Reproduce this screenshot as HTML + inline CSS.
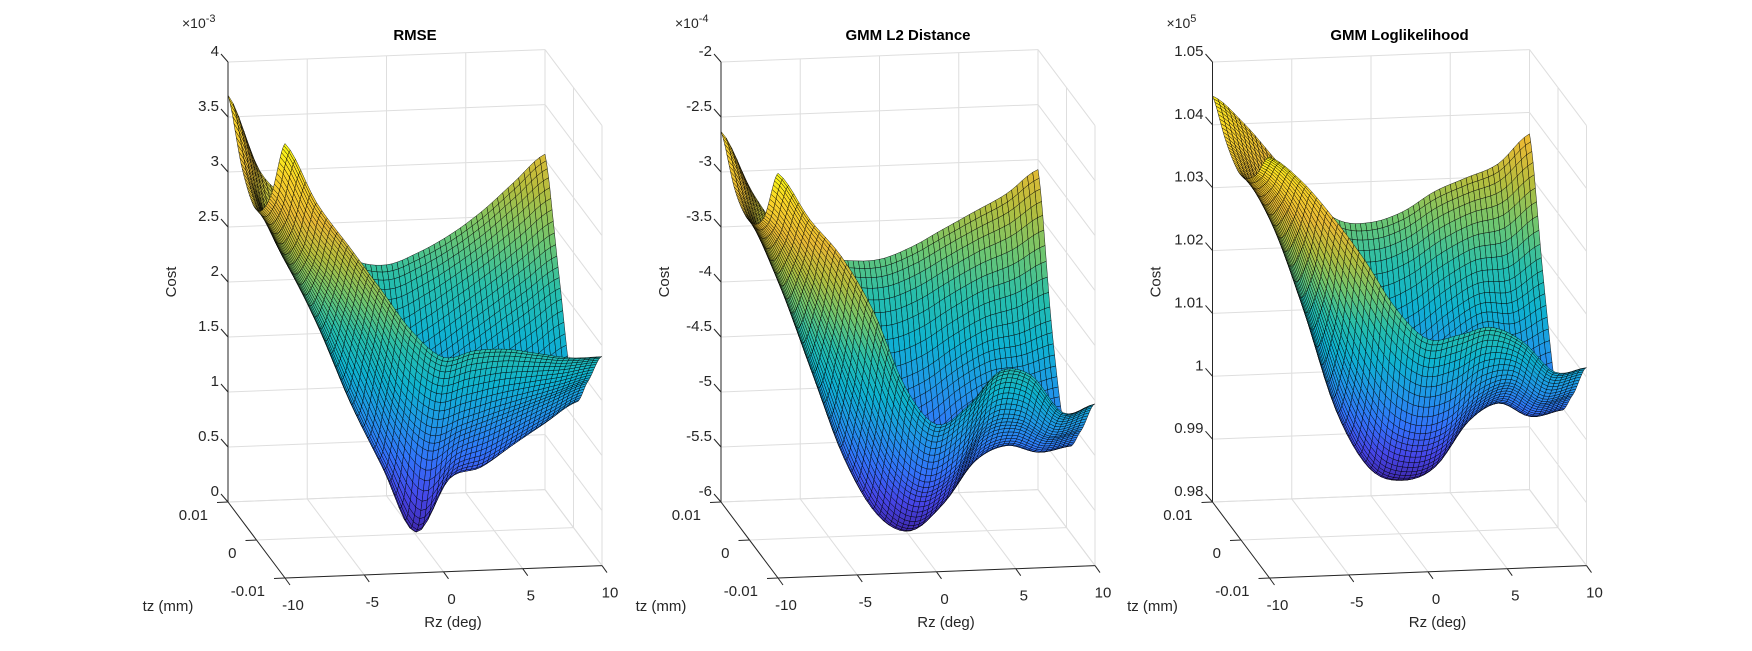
<!DOCTYPE html>
<html><head><meta charset="utf-8">
<style>
html,body{margin:0;padding:0;background:#fff;}
svg{display:block;font-family:"Liberation Sans",Arial,sans-serif;}
</style></head>
<body>
<svg id="fig" width="1752" height="651" viewBox="0 0 1752 651" xmlns="http://www.w3.org/2000/svg">
<rect x="0" y="0" width="1752" height="651" fill="#fff"/>
</svg>
<script>
// ---- data ----
const rzValues = [-10,-8,-6,-4,-2,0,2,4,6,8,10];
const tzValues = [0.01,0.005,0,-0.005,-0.01];
const rzTicks = [-10,-5,0,5,10];
const tzTicks = [0.01,0,-0.01];
const tzTickLabels = ["0.01","0","-0.01"];
// RMSE (x1e-3), rows = tzValues, cols = rzValues
const rmseCost = [
 [3.7,3.0,2.7,2.35,2.15,2.1,2.2,2.35,2.55,2.8,3.05],
 [3.2,2.6,2.2,1.7,1.3,1.1,1.3,1.5,1.7,1.9,2.1],
 [3.0,2.5,1.9,1.2,0.6,0.02,0.5,0.6,0.8,1.0,1.2],
 [3.3,2.8,2.4,1.9,1.3,1.0,1.1,1.2,1.3,1.4,1.5],
 [3.95,3.4,3.0,2.6,2.2,1.95,2.0,2.0,1.95,1.9,1.9]
];
// GMM L2 distance (x1e-4)
const l2Cost = [
 [-2.63,-3.2,-3.6,-3.8,-3.85,-3.85,-3.75,-3.6,-3.45,-3.3,-3.09],
 [-3.0,-3.5,-4.1,-4.6,-4.9,-5.0,-4.9,-4.7,-4.55,-4.5,-4.4],
 [-3.1,-3.7,-4.5,-5.3,-5.8,-5.94,-5.7,-5.35,-5.2,-5.25,-5.2],
 [-2.9,-3.3,-3.9,-4.6,-5.2,-5.45,-5.3,-4.9,-4.85,-5.0,-4.95],
 [-2.32,-2.75,-3.1,-3.6,-4.3,-4.66,-4.5,-4.2,-4.25,-4.6,-4.53]
];
// GMM loglikelihood (x1e5)
const llCost = [
 [1.0446,1.040,1.034,1.028,1.024,1.0235,1.025,1.028,1.030,1.032,1.0366],
 [1.040,1.034,1.024,1.013,1.006,1.004,1.006,1.010,1.013,1.013,1.016],
 [1.038,1.030,1.016,1.000,0.991,0.989,0.991,0.998,1.001,0.999,1.000],
 [1.041,1.035,1.023,1.010,1.001,0.998,0.999,1.004,1.006,1.003,1.004],
 [1.047,1.043,1.037,1.030,1.022,1.017,1.0175,1.0185,1.016,1.011,1.0115]
];
const rmseTicks = [0,0.5,1,1.5,2,2.5,3,3.5,4];
const rmseTickLabels = ["0","0.5","1","1.5","2","2.5","3","3.5","4"];
const l2Ticks = [-6,-5.5,-5,-4.5,-4,-3.5,-3,-2.5,-2];
const l2TickLabels = ["-6","-5.5","-5","-4.5","-4","-3.5","-3","-2.5","-2"];
const llTicks = [0.98,0.99,1.0,1.01,1.02,1.03,1.04,1.05];
const llTickLabels = ["0.98","0.99","1","1.01","1.02","1.03","1.04","1.05"];

const NS = "http://www.w3.org/2000/svg";
const svg = document.getElementById('fig');
function mk(tag, attrs, parent){
  const e = document.createElementNS(NS, tag);
  for (const k in attrs) e.setAttribute(k, attrs[k]);
  (parent||svg).appendChild(e);
  return e;
}
const parulaStops = [[0,[62,38,168]],[0.1,[70,70,232]],[0.2,[50,115,250]],[0.3,[32,150,232]],[0.4,[14,178,208]],[0.5,[38,190,172]],[0.6,[110,198,112]],[0.7,[180,190,62]],[0.8,[234,186,52]],[0.9,[250,212,40]],[1,[249,251,20]]];
function parulaRGB(t){
  t=Math.max(0,Math.min(1,t));
  for(let i=1;i<parulaStops.length;i++){
    if(t<=parulaStops[i][0]){
      const a=parulaStops[i-1],b=parulaStops[i],f=(t-a[0])/(b[0]-a[0]);
      return a[1].map((v,k)=>v+(b[1][k]-v)*f);
    }
  }
  return [249,251,20];
}
function cr(arr,u){
  const n=arr.length;
  let i=Math.floor(u); if(i>=n-1) i=n-2; if(i<0) i=0;
  const t=u-i;
  const p0=arr[Math.max(i-1,0)],p1=arr[i],p2=arr[i+1],p3=arr[Math.min(i+2,n-1)];
  return 0.5*((2*p1)+(-p0+p2)*t+(2*p0-5*p1+4*p2-p3)*t*t+(-p0+3*p1-3*p2+p3)*t*t*t);
}
function sample(grid,u,v){
  const col=grid.map(row=>cr(row,u));
  return cr(col,v);
}
function quadArea(q){
  let s=0;
  for(let k=0;k<4;k++){const a=q[k],b=q[(k+1)%4]; s+=a[0]*b[1]-b[0]*a[1];}
  return s/2;
}

function drawPanel(ox, name, grid, ticks, tickLabels, expText, title){
  const g = mk('g',{});
  
  
  const cmin=ticks[0], cmax=ticks[ticks.length-1];
  const X=(rz,tz)=>ox+228+(rz+10)*15.85+(0.01-tz)*2850;
  const Y=(rz,tz,c)=>502-(rz+10)*0.62+(0.01-tz)*3800-(c-cmin)/(cmax-cmin)*440;
  const gridCol='#dedede';
  for(const rz of rzTicks){
    const l=mk('line',{x1:X(rz,0.01),y1:Y(rz,0.01,cmin),x2:X(rz,0.01),y2:Y(rz,0.01,cmax),stroke:gridCol,'stroke-width':1},g);
    
    
  }
  for(const c of ticks){
    const l=mk('line',{x1:X(-10,0.01),y1:Y(-10,0.01,c),x2:X(10,0.01),y2:Y(10,0.01,c),stroke:gridCol,'stroke-width':1},g);
    
    
    const l2=mk('line',{x1:X(10,0.01),y1:Y(10,0.01,c),x2:X(10,-0.01),y2:Y(10,-0.01,c),stroke:gridCol,'stroke-width':1},g);
    
    
  }
  for(const tz of tzTicks){
    const l=mk('line',{x1:X(10,tz),y1:Y(10,tz,cmin),x2:X(10,tz),y2:Y(10,tz,cmax),stroke:gridCol,'stroke-width':1},g);
    
    
    const f=mk('line',{x1:X(-10,tz),y1:Y(-10,tz,cmin),x2:X(10,tz),y2:Y(10,tz,cmin),stroke:gridCol,'stroke-width':1},g);
    
    
  }
  for(const rz of rzTicks){
    const f=mk('line',{x1:X(rz,0.01),y1:Y(rz,0.01,cmin),x2:X(rz,-0.01),y2:Y(rz,-0.01,cmin),stroke:gridCol,'stroke-width':1},g);
    
    
  }
  const sg=mk('g',{stroke:'#000','stroke-width':0.5,'stroke-opacity':0.85,'stroke-linejoin':'round'},g);
  
  
  const NU=60, NV=48;
  const nu=rzValues.length-1, nv=tzValues.length-1;
  let dmin=Infinity,dmax=-Infinity;
  grid.forEach(r=>r.forEach(v=>{dmin=Math.min(dmin,v);dmax=Math.max(dmax,v);}));
  const P=[];
  for(let j=0;j<=NV;j++){
    const row=[];
    for(let i=0;i<=NU;i++){
      const u=i/NU*nu, v=j/NV*nv;
      const rz=rzValues[0]+(rzValues[nu]-rzValues[0])*i/NU;
      const tz=tzValues[0]+(tzValues[nv]-tzValues[0])*j/NV;
      let c=sample(grid,u,v);
      c=Math.max(cmin,Math.min(cmax,c));
      row.push([X(rz,tz),Y(rz,tz,c),c]);
    }
    P.push(row);
  }
  const flatA=(15.85*20/NU)*(3800*0.02/NV)+(0.62*20/NU)*(2850*0.02/NV);
  for(let j=0;j<NV;j++){
    for(let i=0;i<NU;i++){
      const a=P[j][i],b=P[j][i+1],c=P[j+1][i+1],d=P[j+1][i];
      const val=(a[2]+b[2]+c[2]+d[2])/4;
      const area=Math.abs(quadArea([a,b,c,d]));
      const ratio=area/flatA;
      const dark=Math.max(0,Math.min(0.8,1-ratio/0.2));
      const rgb=parulaRGB((val-dmin)/(dmax-dmin)).map(v=>Math.round(v*(1-dark)));
      const poly=mk('polygon',{points:[a,b,c,d].map(p=>p[0].toFixed(1)+','+p[1].toFixed(1)).join(' '),fill:'rgb('+rgb.join(',')+')'},sg);
      
      
    }
  }
  const ax='#262626';
  const za=mk('line',{x1:X(-10,0.01),y1:Y(-10,0.01,cmin),x2:X(-10,0.01),y2:Y(-10,0.01,cmax),stroke:ax,'stroke-width':1},g);
  
  
  const ta=mk('line',{x1:X(-10,0.01),y1:Y(-10,0.01,cmin),x2:X(-10,-0.01),y2:Y(-10,-0.01,cmin),stroke:ax,'stroke-width':1},g);
  
  
  const ra=mk('line',{x1:X(-10,-0.01),y1:Y(-10,-0.01,cmin),x2:X(10,-0.01),y2:Y(10,-0.01,cmin),stroke:ax,'stroke-width':1},g);
  
  
  ticks.forEach((c,k)=>{
    const x=X(-10,0.01), y=Y(-10,0.01,c);
    const t=mk('line',{x1:x,y1:y,x2:x-7,y2:y-8,stroke:ax,'stroke-width':1},g);
    
    
    const tx=mk('text',{x:x-9,y:y-6,'font-size':15,fill:'#262626','text-anchor':'end'},g);
    tx.textContent=tickLabels[k];
    
    
  });
  tzTicks.forEach((tz,k)=>{
    const x=X(-10,tz), y=Y(-10,tz,cmin);
    const t=mk('line',{x1:x,y1:y,x2:x-11,y2:y+0.5,stroke:ax,'stroke-width':1},g);
    
    
    const tx=mk('text',{x:x-20,y:y+18,'font-size':15,fill:'#262626','text-anchor':'end'},g);
    tx.textContent=tzTickLabels[k];
    
    
  });
  rzTicks.forEach(rz=>{
    const x=X(rz,-0.01), y=Y(rz,-0.01,cmin);
    const t=mk('line',{x1:x,y1:y,x2:x+5,y2:y+7,stroke:ax,'stroke-width':1},g);
    
    
    const tx=mk('text',{x:x+8,y:y+32,'font-size':15,fill:'#262626','text-anchor':'middle'},g);
    tx.textContent=String(rz);
    
    
  });
  const tl=mk('text',{x:ox+168,y:611,'font-size':15,fill:'#262626','text-anchor':'middle'},g);
  tl.textContent='tz (mm)';
  
  
  const rl=mk('text',{x:ox+453,y:627,'font-size':15,fill:'#262626','text-anchor':'middle'},g);
  rl.textContent='Rz (deg)';
  
  
  const cl=mk('text',{x:0,y:0,'font-size':15,fill:'#262626','text-anchor':'middle',transform:'translate('+(ox+176)+',282) rotate(-90)'},g);
  cl.textContent='Cost';
  
  
  const tt=mk('text',{x:ox+415,y:40,'font-size':15,'font-weight':'bold',fill:'#000','text-anchor':'middle'},g);
  tt.textContent=title;
  
  
  const ex=mk('text',{x:ox+182,y:28,'font-size':14,fill:'#262626'},g);
  
  
  const t1=mk('tspan',{},ex); t1.textContent='\u00d710';
  const t2=mk('tspan',{dy:-6,'font-size':11},ex); t2.textContent=expText;
}
drawPanel(0,'rmse',rmseCost,rmseTicks,rmseTickLabels,'-3','RMSE');
drawPanel(493,'gmm-l2',l2Cost,l2Ticks,l2TickLabels,'-4','GMM L2 Distance');
drawPanel(984.5,'gmm-loglikelihood',llCost,llTicks,llTickLabels,'5','GMM Loglikelihood');
</script>
</body></html>
